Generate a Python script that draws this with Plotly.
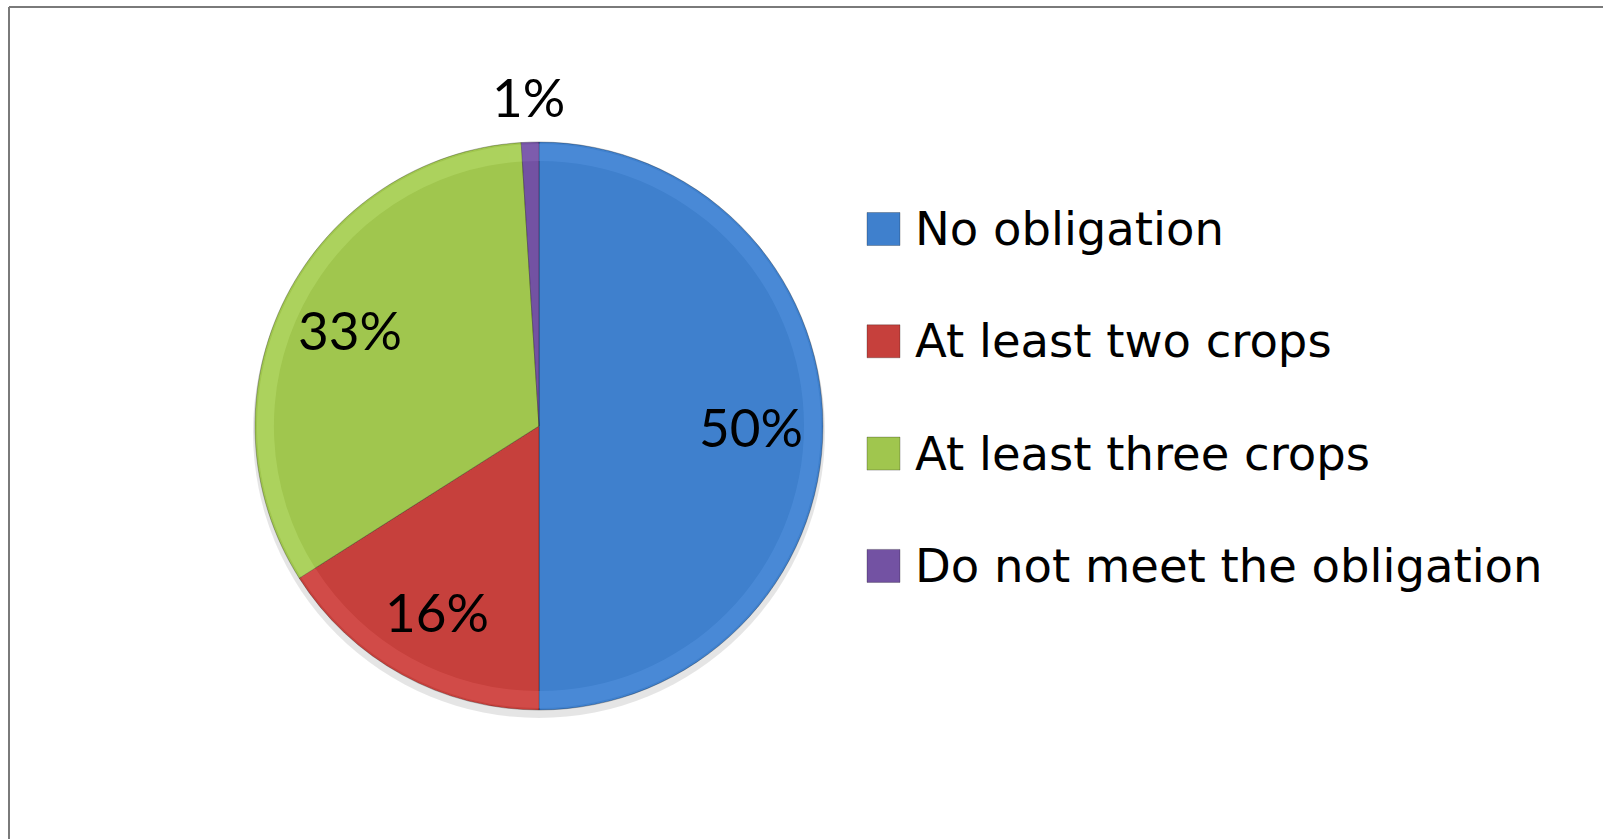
import math
import plotly.graph_objects as go

# Share of farms by crop diversification obligation
categories = ["No obligation", "At least two crops", "At least three crops", "Do not meet the obligation"]
shares = [50, 16, 33, 1]
colors = ["#3f80cd", "#c6403c", "#a0c64e", "#7352a3"]
rim_colors = ["#5d9be8", "#e86260", "#c4e97c", "#9070c0"]
label_pos = ["inside", "inside", "inside", "outside"]

W, H = 1603, 839
CX, CY, R = 539, 426, 284          # pie centre / radius in pixels
LABEL_FONT = "Lato"
LEGEND_FONT = "DejaVu Sans"

dom_x = [(CX - R) / W, (CX + R) / W]
dom_y = [(H - CY - R) / H, (H - CY + R) / H]

fig = go.Figure()

# soft shadow under the pie
fig.add_trace(go.Pie(
    values=[1], marker=dict(colors=["rgba(0,0,0,0.10)"], line=dict(width=0)),
    domain=dict(x=[dom_x[0] - 2 / W, dom_x[1] + 2 / W], y=[dom_y[0] - 10 / H, dom_y[1] - 2 / H]),
    textinfo="none", hoverinfo="skip", showlegend=False, sort=False,
))

# main slices
fig.add_trace(go.Pie(
    labels=categories, values=shares, sort=False, direction="clockwise", rotation=0,
    marker=dict(colors=colors, line=dict(color="rgba(0,0,0,0.35)", width=0.8)),
    domain=dict(x=dom_x, y=dom_y), textinfo="none", showlegend=False,
))

# lighter bevel band near the rim
fig.add_trace(go.Pie(
    labels=categories, values=shares, sort=False, direction="clockwise", rotation=0, hole=0.94,
    marker=dict(colors=rim_colors, line=dict(width=0)), opacity=0.35,
    domain=dict(x=[dom_x[0] + 2 / W, dom_x[1] - 2 / W], y=[dom_y[0] + 2 / H, dom_y[1] - 2 / H]),
    textinfo="none", hoverinfo="skip", showlegend=False,
))

annotations = []
shapes = []

# percentage labels at each slice's mid-angle
total = sum(shares)
start = 0.0
for val, pos in zip(shares, label_pos):
    mid = (start + val / 2) / total * 2 * math.pi
    start += val
    rf = 0.745 if pos == "inside" else 1.16
    px = CX + rf * R * math.sin(mid)
    py = CY - rf * R * math.cos(mid)
    annotations.append(dict(
        x=px / W, y=1 - py / H, xref="paper", yref="paper", showarrow=False,
        text=f"{val}%", font=dict(family=LABEL_FONT, size=53, color="black"),
        xanchor="center", yanchor="middle",
    ))

# legend: coloured squares and labels
LEG_X0, LEG_Y0, LEG_DY, SQ = 867, 229, 112.3, 33
for i, (name, col) in enumerate(zip(categories, colors)):
    yc = LEG_Y0 + i * LEG_DY
    shapes.append(dict(
        type="rect", xref="paper", yref="paper",
        x0=LEG_X0 / W, x1=(LEG_X0 + SQ) / W, y0=1 - (yc + SQ / 2) / H, y1=1 - (yc - SQ / 2) / H,
        fillcolor=col, line=dict(color="rgba(0,0,0,0.25)", width=1),
    ))
    annotations.append(dict(
        x=913 / W, y=1 - yc / H, xref="paper", yref="paper", showarrow=False,
        text=name, font=dict(family=LEGEND_FONT, size=46.5, color="black"),
        xanchor="left", yanchor="middle",
    ))

# frame along the left and top edges
shapes.append(dict(type="line", xref="paper", yref="paper", x0=9 / W, x1=9 / W, y0=0, y1=1 - 7 / H,
                   line=dict(color="#7a7a7a", width=2)))
shapes.append(dict(type="line", xref="paper", yref="paper", x0=9 / W, x1=1, y0=1 - 7 / H, y1=1 - 7 / H,
                   line=dict(color="#7a7a7a", width=2)))

fig.update_layout(
    width=W, height=H, margin=dict(l=0, r=0, t=0, b=0),
    paper_bgcolor="white", plot_bgcolor="white",
    annotations=annotations, shapes=shapes, showlegend=False,
)

fig.write_html("out.html")
